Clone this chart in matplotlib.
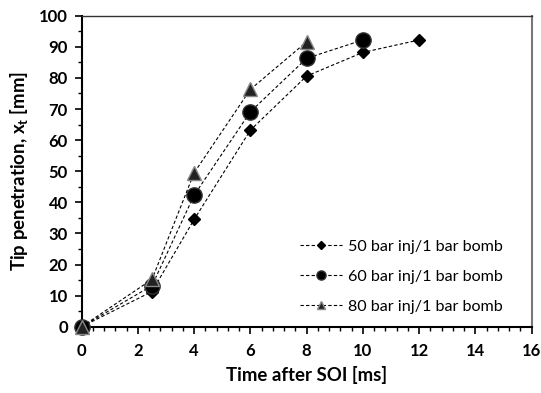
import matplotlib
matplotlib.use("Agg")
import matplotlib.pyplot as plt
from matplotlib.ticker import MultipleLocator

time_50 = [0, 2.5, 4, 6, 8, 10, 12]
tip_50 = [0, 11.3, 34.5, 63.2, 80.6, 88.2, 92.2]
time_60 = [0, 2.5, 4, 6, 8, 10]
tip_60 = [0, 13.2, 42.3, 69.1, 86.3, 92.2]
time_80 = [0, 2.5, 4, 6, 8]
tip_80 = [0, 15.2, 49.5, 76.3, 91.6]
labels = ["50 bar inj/1 bar bomb", "60 bar inj/1 bar bomb", "80 bar inj/1 bar bomb"]

plt.rcParams['font.family'] = ['Lato', 'DejaVu Sans']

fig = plt.figure(figsize=(5.41, 3.93), dpi=100)
ax = fig.add_axes([0.151, 0.1687, 0.8315, 0.7913])

ax.plot(time_50, tip_50, linestyle='--', color='black', linewidth=0.8, dashes=(3, 2),
        marker='D', markersize=6.5, markerfacecolor='black', markeredgecolor='black',
        label=labels[0], clip_on=False, zorder=3)
ax.plot(time_60, tip_60, linestyle='--', color='black', linewidth=0.8, dashes=(3, 2),
        marker='o', markersize=11, markerfacecolor='black', markeredgecolor='#333333',
        label=labels[1], clip_on=False, zorder=3)
ax.plot(time_80, tip_80, linestyle='--', color='black', linewidth=0.8, dashes=(3, 2),
        marker='^', markersize=10, markerfacecolor='#222222', markeredgecolor='#888888',
        label=labels[2], clip_on=False, zorder=3)

ax.set_xlim(0, 16)
ax.set_ylim(0, 100)
ax.xaxis.set_major_locator(MultipleLocator(2))
ax.xaxis.set_minor_locator(MultipleLocator(0.4))
ax.yaxis.set_major_locator(MultipleLocator(10))
ax.yaxis.set_minor_locator(MultipleLocator(5))
ax.tick_params(axis='both', which='major', direction='out', length=5, width=1.2, labelsize=12, pad=5)
ax.tick_params(axis='x', which='major', pad=7)
ax.tick_params(axis='both', which='minor', direction='out', length=3, width=1.0)
for lab in ax.get_xticklabels() + ax.get_yticklabels():
    lab.set_fontweight('bold')

for s in ['left', 'bottom']:
    ax.spines[s].set_linewidth(1.5)
    ax.spines[s].set_color('black')
ax.spines['top'].set_linewidth(1.0)
ax.spines['top'].set_color('#333333')
ax.spines['right'].set_linewidth(1.5)
ax.spines['right'].set_color('#777777')

ax.set_xlabel('Time after SOI [ms]', fontsize=13.4, fontweight='bold', labelpad=5)
ax.set_ylabel('Tip penetration, x$_\\mathregular{t}$ [mm]', fontsize=13.4, fontweight='bold', labelpad=6)

leg = ax.legend(loc='lower right', bbox_to_anchor=(0.969, -0.006), frameon=False, fontsize=11.6,
                handlelength=2.6, labelspacing=0.98, markerscale=0.6, handletextpad=0.4)

fig.savefig('out.png', dpi=100)
